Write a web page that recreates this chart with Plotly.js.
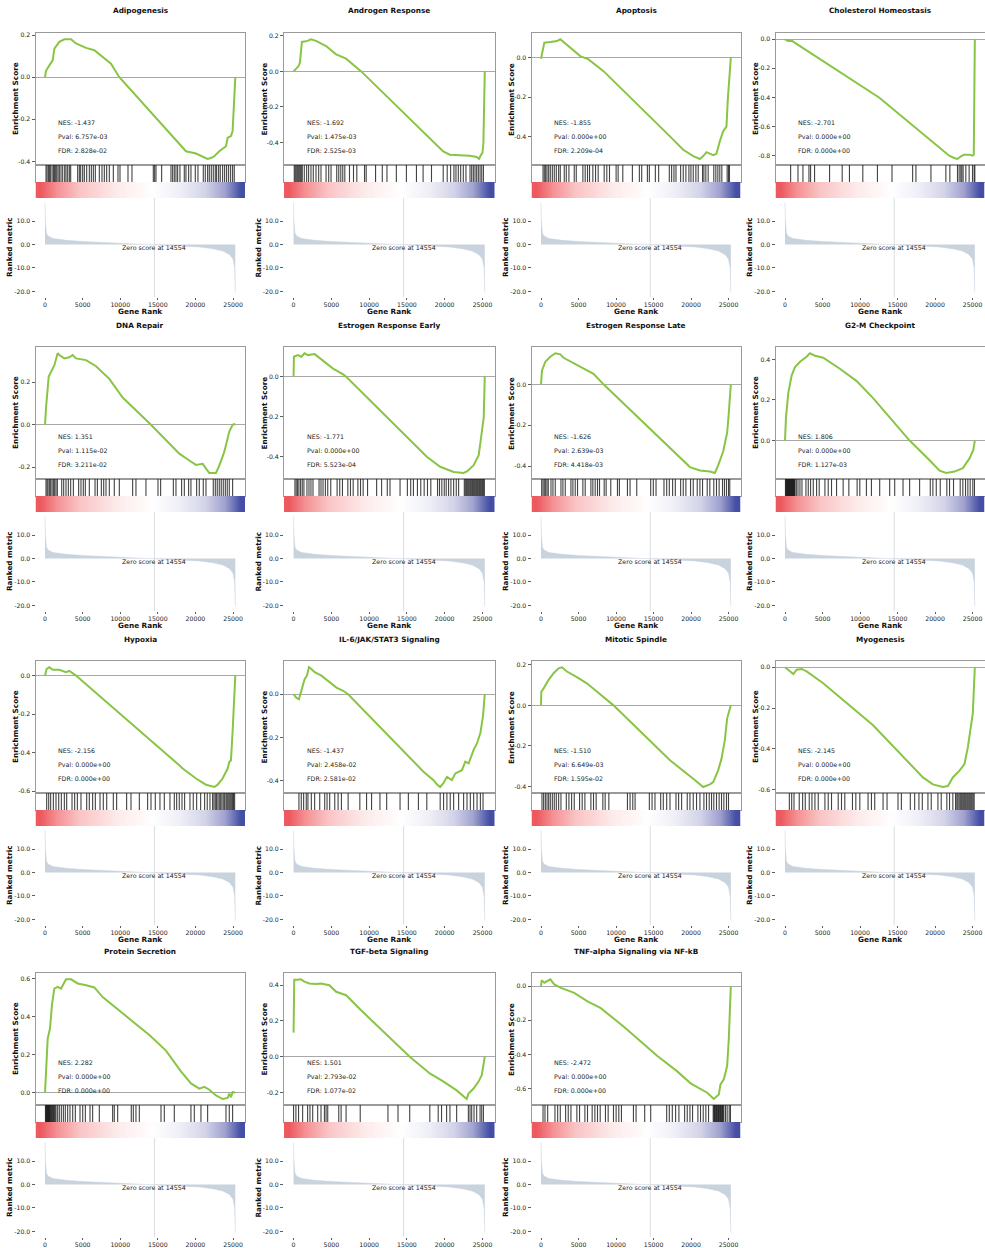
<!DOCTYPE html>
<html>
<head>
<meta charset="utf-8">
<script src="https://cdn.plot.ly/plotly-3.0.1.min.js"></script>
<style>html,body{margin:0;padding:0;background:#fff}#chart{width:985px;height:1248px}</style>
</head>
<body>
<div id="chart"></div>
<script>
// ---------------- DATA ----------------
const setTitles = ['Adipogenesis','Androgen Response','Apoptosis','Cholesterol Homeostasis','DNA Repair','Estrogen Response Early','Estrogen Response Late','G2-M Checkpoint','Hypoxia','IL-6/JAK/STAT3 Signaling','Mitotic Spindle','Myogenesis','Protein Secretion','TGF-beta Signaling','TNF-alpha Signaling via NF-kB'];
const nesValues = ['-1.437','-1.692','-1.855','-2.701','1.351','-1.771','-1.626','1.806','-2.156','-1.437','-1.510','-2.145','2.282','1.501','-2.472'];
const pvalValues = ['6.757e-03','1.475e-03','0.000e+00','0.000e+00','1.115e-02','0.000e+00','2.639e-03','0.000e+00','0.000e+00','2.458e-02','6.649e-03','0.000e+00','0.000e+00','2.793e-02','0.000e+00'];
const fdrValues = ['2.828e-02','2.525e-03','2.209e-04','0.000e+00','3.211e-02','5.523e-04','4.418e-03','1.127e-03','0.000e+00','2.581e-02','1.595e-02','0.000e+00','0.000e+00','1.077e-02','0.000e+00'];

const geneCount = 25322;
const zeroScoreRank = 14554;

// ranked metric (shared by all panels)
const metricRank = [0,40,180,400,1060,2830,5050,7260,9480,11690,14350,16130,18340,20560,22330,23660,24540,24990,25210,25300];
const metricValue = [18.0,10.7,4.9,3.7,2.6,1.8,1.3,1.0,0.7,0.45,0,-0.3,-0.6,-1.0,-1.8,-2.8,-4.3,-6.2,-9.9,-20.5];
const metricTickVals = [-20,-10,0,10];
const metricTickText = ['-20.0','-10.0','0.0','10.0'];
const rankTickVals = [0,5000,10000,15000,20000,25000];
const rankTickText = ['0','5000','10000','15000','20000','25000'];

// colour bar levels
const cbarLevels = [0,0.05,0.1,0.15,0.2,0.25,0.3,0.35,0.4,0.45,0.5,0.55,0.6,0.65,0.7,0.75,0.8,0.85,0.9,0.95,1];

// running enrichment score curves
const adipoRank = [0,133,576,1020,1240,1900,2570,3450,4120,5450,6560,7660,8770,9880,18740,20070,20960,21620,22060,22510,23170,24060,24280,24720,24940,25070,25300];
const adipoES = [0,0.03,0.056,0.08,0.136,0.168,0.18,0.18,0.16,0.139,0.128,0.096,0.064,0.0,-0.352,-0.363,-0.376,-0.389,-0.384,-0.376,-0.352,-0.328,-0.288,-0.28,-0.256,-0.168,0];
const androRank = [0,310,665,840,1100,1860,2300,2970,4300,5630,6950,8950,19800,20690,22020,23340,24230,24540,24800,24990,25120,25300];
const androES = [0,0.015,0.03,0.049,0.166,0.172,0.181,0.172,0.143,0.096,0.072,0,-0.451,-0.47,-0.474,-0.476,-0.483,-0.494,-0.47,-0.46,-0.404,0];
const apopRank = [0,133,443,1240,2130,2570,3010,4120,5230,6330,8330,17190,18960,20290,21180,21620,22060,22950,23390,23830,24280,24720,24900,25300];
const apopES = [-0.005,0.026,0.077,0.08,0.085,0.094,0.08,0.043,0.0085,-0.0085,-0.068,-0.4,-0.468,-0.5,-0.515,-0.5,-0.48,-0.495,-0.488,-0.425,-0.374,-0.35,-0.21,0];
const cholRank = [0,400,975,1285,12580,21440,21880,22550,22990,23430,23880,24540,24990,25160,25300];
const cholES = [0,-0.0115,-0.0115,-0.023,-0.403,-0.784,-0.802,-0.818,-0.825,-0.807,-0.795,-0.795,-0.802,-0.795,0];
const dnaRank = [0,133,490,800,1240,1680,1900,2570,3230,3680,4120,5450,6780,8550,10320,14090,17850,19180,20070,20960,21840,22730,23170,23830,24500,24940,25160,25300];
const dnaES = [0,0.08,0.227,0.248,0.28,0.336,0.328,0.312,0.317,0.328,0.312,0.304,0.275,0.216,0.128,0,-0.136,-0.168,-0.189,-0.184,-0.227,-0.227,-0.192,-0.128,-0.032,0,0.003,0];
const esEarlyRank = [0,44,575,1020,1460,1900,2790,3680,5230,6560,7000,17630,19400,21180,22500,22950,23830,24500,24940,25160,25300];
const esEarlyES = [0,0.098,0.106,0.098,0.115,0.106,0.111,0.084,0.039,0.01,-0.003,-0.4,-0.45,-0.476,-0.481,-0.473,-0.442,-0.392,-0.257,-0.206,0];
const esLateRank = [0,133,576,1240,1900,2570,3010,3900,4780,6110,7000,8330,17190,18520,19850,21180,22510,23170,23610,24280,24810,24990,25300];
const esLateES = [0,0.068,0.11,0.135,0.152,0.147,0.13,0.113,0.093,0.071,0.051,0,-0.312,-0.363,-0.405,-0.422,-0.427,-0.434,-0.397,-0.329,-0.236,-0.16,0];
const g2mRank = [0,133,443,886,1330,2000,2880,3320,3990,5090,7310,9520,11740,16610,19270,20600,21490,22590,23700,24590,25100,25300];
const g2mES = [0,0.116,0.235,0.32,0.362,0.388,0.413,0.43,0.418,0.408,0.354,0.294,0.209,0,-0.097,-0.148,-0.16,-0.153,-0.136,-0.088,-0.046,0];
const hypoxiaRank = [0,220,575,1020,1900,2790,3230,4120,17850,18300,20070,21400,22500,22950,23610,24280,24500,24720,24940,25300];
const hypoxiaES = [0,0.035,0.043,0.03,0.03,0.017,0.024,0,-0.466,-0.483,-0.535,-0.567,-0.579,-0.567,-0.535,-0.483,-0.449,-0.44,-0.292,0];
const il6Rank = [0,354,709,1020,1460,1770,2040,2350,2790,3680,4780,5670,6560,7220,17190,18520,18960,19400,19850,20290,20950,21400,22280,22720,23170,23830,24280,24720,25070,25300];
const il6ES = [0,-0.016,-0.023,0.016,0.07,0.086,0.125,0.117,0.102,0.086,0.055,0.031,0.016,0,-0.359,-0.398,-0.417,-0.43,-0.411,-0.383,-0.398,-0.367,-0.352,-0.3125,-0.32,-0.258,-0.227,-0.18,-0.1,0];
const mitoticRank = [0,44,354,1020,1680,2350,2790,3460,4780,6110,7440,9660,17190,18960,20290,21620,22510,22950,23610,24060,24500,24810,25300];
const mitoticES = [0,0.068,0.084,0.126,0.159,0.183,0.188,0.167,0.139,0.109,0.068,0,-0.271,-0.321,-0.362,-0.403,-0.39,-0.379,-0.321,-0.263,-0.172,-0.064,0];
const myoRank = [0,665,1110,1550,2220,2880,5090,11740,18380,19710,21040,21710,22370,23260,23920,24370,24810,25030,25300];
const myoES = [0,-0.02,-0.033,-0.0116,-0.008,-0.02,-0.078,-0.284,-0.54,-0.574,-0.587,-0.582,-0.54,-0.507,-0.474,-0.392,-0.293,-0.226,0];
const proteinRank = [0,133,354,665,930,1240,1680,2130,2570,2790,3460,4340,5450,6560,7660,9440,11650,13870,16080,18070,19410,20510,21180,21840,22730,23610,24280,24500,24720,24940,25300];
const proteinES = [0,0.104,0.285,0.34,0.467,0.549,0.558,0.549,0.585,0.598,0.598,0.576,0.567,0.555,0.504,0.449,0.376,0.304,0.222,0.113,0.049,0.022,0.031,0.016,-0.0145,-0.033,-0.027,-0.005,-0.024,0.004,0];
const tgfRank = [0,89,530,975,1420,2080,2970,3630,4740,5630,6950,8730,15370,18030,19800,21580,22910,23130,23790,24460,24900,25300];
const tgfES = [0.135,0.43,0.43,0.433,0.42,0.41,0.407,0.41,0.4,0.363,0.344,0.268,0,-0.093,-0.137,-0.188,-0.236,-0.207,-0.179,-0.14,-0.103,0];
const tnfRank = [0,89,443,886,1240,1770,2660,4430,6200,7970,11080,15510,18160,19940,22150,23030,23700,23920,24370,24810,25030,25300];
const tnfES = [0,0.034,0.02,0.034,0.04,0.01,-0.01,-0.04,-0.089,-0.129,-0.24,-0.41,-0.5,-0.57,-0.625,-0.662,-0.636,-0.576,-0.546,-0.467,-0.308,0];

// gene-set hit positions
const adipoHits = [133,266,443,576,709,930,1108,1240,1373,1550,1728,1905,2126,2348,2614,2791,3012,3234,3411,4341,4563,4740,5006,5227,5538,5892,6158,6424,6689,7221,7575,7885,8196,8550,9082,9702,9968,11031,11562,14398,14575,14752,15505,16745,16967,17188,17410,17631,17941,18517,18739,19093,19403,19979,20334,21042,21308,21618,21840,22106,22372,22637,22815,23080,23302,23612,23878,24144,24409,24675,24941,25162];
const androHits = [90,220,350,490,620,750,890,1020,1150,1420,1730,1990,2300,2610,2970,3320,3630,4300,4650,4960,5710,5980,6250,6510,6780,7400,7930,8370,9390,9610,10850,11740,12360,13600,14930,16260,17140,18250,19800,20330,20780,21220,21490,21800,22110,22460,22810,23350,23570,23790,24010,24230,24450,24680,24900,25120];
const apopHits = [270,440,620,800,1020,1240,1510,1770,2040,2350,2570,3100,3370,3720,4430,4700,5580,5890,6200,6470,6910,7270,7620,8420,8770,9130,10010,10280,10900,12180,13110,13420,14180,14440,15240,15680,17100,17410,17720,17990,18610,18960,19310,19710,19980,20290,20640,20950,21530,21710,21970,22280,23030,23300,23570,23830,24100,24810,24990,25120];
const cholHits = [750,1730,2390,3190,3410,3940,5940,7620,8590,10370,12320,14260,17010,17450,19450,21440,21970,22990,23210,23430,23570,23740,24100,24540,24990,25210,25300];
const dnaHits = [130,270,400,580,750,930,1110,1280,1460,1640,2220,2480,2790,3100,3410,3770,4470,4780,5090,5360,5890,6650,6960,7490,7800,8110,8550,9210,9880,11650,12090,13420,15020,15370,17060,17410,18160,18520,19090,19400,20160,20510,21040,21400,22370,22640,22900,23170,23430,23700,23970,24230,24500,24940];
const esEarlyHits = [180,350,530,710,930,1150,1370,1770,2040,2300,2570,3370,3630,3900,4210,4520,4920,5760,6110,6470,7180,7530,7890,8510,8860,9210,9790,10990,11650,12400,12760,14090,15060,15500,15860,16390,16830,17280,17720,18160,19050,19310,19620,19940,20200,20510,20820,21180,21530,21840,22590,22720,22860,22990,23120,23250,23390,23520,23660,23790,23920,24050,24190,24320,24450,24590,24720,24850,24990,25120,25250];
const esLateHits = [90,270,440,620,800,970,1330,1590,1900,2660,2920,3230,3990,4250,4560,4870,5580,5890,6650,6910,7220,7530,7800,8420,8680,9300,10190,10450,11520,11870,12760,14620,14970,15330,16390,16750,17100,17540,17900,18610,18960,19310,19930,20290,20820,21180,21530,22150,22500,23030,23390,23740,24190,24450,24720,24990,25160];
const g2mHits = [60,130,200,270,330,400,460,530,600,660,730,800,860,930,1000,1060,1130,1200,1270,1330,1510,1730,1990,2260,2790,3100,3410,3770,4210,4560,5320,5760,6200,6870,7750,8510,9610,9970,10850,11520,12620,13950,14620,15730,16610,17940,19360,19710,20160,20690,21570,21930,22460,23350,23700,24060,24370,24680,25030,25250];
const hypoxiaHits = [220,490,750,1110,1460,1820,2170,2570,2880,3590,3940,4300,4780,5540,5890,6330,6690,7310,7750,8200,9080,9520,10850,11430,12540,13640,14090,14660,15280,15860,16610,17190,17500,17850,18210,18560,19270,19710,20160,20690,21220,21570,21930,22280,22460,22640,22810,22990,23170,23350,23520,23700,23880,24060,24190,24320,24460,24590,24720,24850,24960,25070,25210];
const il6Hits = [710,1020,1330,1680,1900,2350,2790,3460,4120,4430,4780,5450,5890,6330,7220,8770,9660,10320,11430,12320,14090,15190,16520,17630,19400,19850,20290,20730,21180,21840,22500,22950,23390,23830,24280,24720,25070];
const mitoticHits = [130,350,580,800,1020,1240,1510,1770,2040,2350,2660,3370,3720,4080,4430,5140,5490,5850,6650,7000,7350,8240,8550,9040,11520,11870,12230,12540,14440,14800,15190,15950,16300,16750,17190,17990,18340,18740,19490,19850,20290,20730,21180,21710,22060,22420,22730,23030,23390,23740,24060,24370,24720,24990];
const myoHits = [580,890,1200,1900,2350,2700,3230,3590,3990,4430,5320,5760,6200,7090,7530,7970,8990,9440,9970,11070,11520,11960,13070,13600,15060,15510,16700,17280,17850,18300,19050,19490,20380,20820,21570,21930,22370,22730,22900,23040,23200,23350,23480,23610,23750,23880,24010,24140,24280,24410,24550,24680,24810,24940,25080,25210];
const proteinHits = [60,130,200,270,330,400,460,530,600,660,750,840,930,1020,1130,1240,1350,1460,1680,1900,2170,2440,2700,3010,3320,3680,4030,4650,5010,5360,5980,6330,7220,8990,9210,9660,11470,11740,12090,12540,15420,15860,17190,19400,19850,20730,21620,24060,24500,24940];
const tgfHits = [0,310,660,1200,1860,2170,2530,3190,3630,4080,4300,4520,5980,6290,6950,8820,12490,13820,15370,18030,19140,19580,20250,20690,21580,23130,23350,23570,23880,24230,24680,24900,25120];
const tnfHits = [270,530,890,1860,2220,2570,3280,3630,3990,4780,5140,5850,6200,6820,7180,7530,7890,8590,8950,9660,10010,10370,10720,12320,12670,13820,14620,16750,17100,17500,17940,18380,19140,19490,19850,20200,20910,21260,21620,21970,22330,22950,23040,23130,23210,23300,23390,23480,23570,23660,23740,23830,23920,24010,24100,24190,24280,24370,24590,24810,25080,25250];

const esRanks = [adipoRank,androRank,apopRank,cholRank,dnaRank,esEarlyRank,esLateRank,g2mRank,hypoxiaRank,il6Rank,mitoticRank,myoRank,proteinRank,tgfRank,tnfRank];
const esScores = [adipoES,androES,apopES,cholES,dnaES,esEarlyES,esLateES,g2mES,hypoxiaES,il6ES,mitoticES,myoES,proteinES,tgfES,tnfES];
const hitRanks = [adipoHits,androHits,apopHits,cholHits,dnaHits,esEarlyHits,esLateHits,g2mHits,hypoxiaHits,il6Hits,mitoticHits,myoHits,proteinHits,tgfHits,tnfHits];

// ---------------- LAYOUT ----------------
const W = 985, H = 1248;
const colX = [[35.5,245],[284,494.5],[531.5,740.5],[775.5,984.5]];
const rowTop = [0,314,628,940];
const FONT = 'DejaVu Sans';
const xRange = [-0.05*geneCount, 1.05*geneCount];
const px = v => v / W;
const py = v => 1 - v / H;
const sfx = n => (n === 1 ? '' : String(n));

const traces = [];
const layout = {
  width: W, height: H,
  margin: {l:0, r:0, t:0, b:0},
  paper_bgcolor: '#ffffff', plot_bgcolor: '#ffffff',
  showlegend: false,
  font: {family: FONT, color: '#222'},
  annotations: [], shapes: []
};
const tickFont = () => ({family: FONT, size: 6.2, color: '#222'});
const labFont = () => ({family: FONT, size: 7.3, color: '#111', weight: 'bold'});
const txtFont = () => ({family: FONT, size: 6.3, color: '#222'});

setTitles.forEach((title, i) => {
  const col = i % 4, row = Math.floor(i / 4);
  const [L, R] = colX[col];
  const r0 = rowTop[row];
  const nES = 4*i+1, nHit = 4*i+2, nBar = 4*i+3, nRank = 4*i+4;
  const xd = [px(L), px(R)];

  // ES axis range (5% margin, like matplotlib)
  const es = esScores[i];
  const lo = Math.min(0, ...es), hi = Math.max(0, ...es);
  const pad = (hi - lo) * 0.05;
  const esTickVals = [], esTickText = [];
  for (let k = Math.ceil((lo - pad) / 0.2 - 1e-9); k * 0.2 <= hi + pad + 1e-9; k++) {
    esTickVals.push(k * 0.2);
    esTickText.push(k === 0 ? '0.0' : (k * 0.2).toFixed(1));
  }

  layout['xaxis'+sfx(nES)] = {domain: xd, range: xRange, anchor: 'y'+sfx(nES), showticklabels: false, ticks: '', showgrid: false, zeroline: false, showline: true, mirror: true, linecolor: '#9a9a9a', linewidth: 1, fixedrange: true};
  layout['yaxis'+sfx(nES)] = {domain: [py(r0+165), py(r0+33.3)], range: [lo-pad, hi+pad], anchor: 'x'+sfx(nES), tickmode: 'array', tickvals: esTickVals, ticktext: esTickText, ticks: 'outside', ticklen: 3, tickcolor: '#333', tickwidth: 0.8, tickfont: tickFont(), showgrid: false, zeroline: true, zerolinecolor: '#a8a8a8', zerolinewidth: 1, showline: true, mirror: true, linecolor: '#9a9a9a', linewidth: 1, fixedrange: true};

  layout['xaxis'+sfx(nHit)] = {domain: xd, range: xRange, anchor: 'y'+sfx(nHit), showticklabels: false, ticks: '', showgrid: false, zeroline: false, showline: true, mirror: true, linecolor: '#9a9a9a', linewidth: 1, fixedrange: true};
  layout['yaxis'+sfx(nHit)] = {domain: [py(r0+182), py(r0+165)], range: [0, 1], anchor: 'x'+sfx(nHit), showticklabels: false, ticks: '', showgrid: false, zeroline: false, showline: true, mirror: true, linecolor: '#9a9a9a', linewidth: 1, fixedrange: true};

  layout['xaxis'+sfx(nBar)] = {domain: xd, range: [-0.5, cbarLevels.length-0.5], anchor: 'y'+sfx(nBar), visible: false, fixedrange: true};
  layout['yaxis'+sfx(nBar)] = {domain: [py(r0+198), py(r0+182)], range: [-0.5, 0.5], anchor: 'x'+sfx(nBar), visible: false, fixedrange: true};

  const mLo = Math.min(...metricValue), mHi = Math.max(...metricValue);
  const mPad = (mHi - mLo) * 0.05;
  layout['xaxis'+sfx(nRank)] = {domain: xd, range: xRange, anchor: 'y'+sfx(nRank), tickmode: 'array', tickvals: rankTickVals, ticktext: rankTickText, ticks: 'outside', ticklen: 2, tickcolor: '#333', tickwidth: 0.8, tickfont: tickFont(), showgrid: false, zeroline: false, showline: false, fixedrange: true};
  layout['yaxis'+sfx(nRank)] = {domain: [py(r0+297), py(r0+198)], range: [mLo-mPad, mHi+mPad], anchor: 'x'+sfx(nRank), tickmode: 'array', tickvals: metricTickVals, ticktext: metricTickText, ticks: 'outside', ticklen: 3, tickcolor: '#333', tickwidth: 0.8, tickfont: tickFont(), showgrid: false, zeroline: false, showline: false, fixedrange: true};

  // ES curve
  traces.push({type: 'scatter', mode: 'lines', x: esRanks[i], y: es, xaxis: 'x'+sfx(nES), yaxis: 'y'+sfx(nES), line: {color: '#88C544', width: 2}, hoverinfo: 'skip'});

  // hit lines
  const hx = [], hy = [];
  hitRanks[i].forEach(h => { hx.push(h, h, null); hy.push(0, 1, null); });
  traces.push({type: 'scatter', mode: 'lines', x: hx, y: hy, xaxis: 'x'+sfx(nHit), yaxis: 'y'+sfx(nHit), line: {color: 'rgba(20,20,20,0.8)', width: 1.1}, hoverinfo: 'skip'});

  // colour bar
  traces.push({type: 'heatmap', z: [cbarLevels], xaxis: 'x'+sfx(nBar), yaxis: 'y'+sfx(nBar), zmin: 0, zmax: 1, zsmooth: 'best', showscale: false, hoverinfo: 'skip',
    colorscale: [[0,'rgb(236,90,96)'],[0.08,'rgb(244,145,148)'],[0.2,'rgb(250,198,199)'],[0.38,'rgb(253,235,235)'],[0.56,'rgb(255,255,255)'],[0.7,'rgb(238,238,247)'],[0.82,'rgb(212,212,233)'],[0.92,'rgb(160,162,207)'],[1,'rgb(68,78,164)']]});

  // ranked metric
  traces.push({type: 'scatter', mode: 'lines', x: metricRank, y: metricValue, xaxis: 'x'+sfx(nRank), yaxis: 'y'+sfx(nRank), fill: 'tozeroy', fillcolor: '#C9D3DE', line: {color: '#C9D3DE', width: 0.5}, hoverinfo: 'skip'});

  layout.shapes.push({type: 'line', xref: 'x'+sfx(nRank), yref: 'y'+sfx(nRank)+' domain', x0: zeroScoreRank, x1: zeroScoreRank, y0: 0, y1: 1, line: {color: '#cfd5db', width: 0.8}});

  // texts
  const A = layout.annotations;
  A.push({xref: 'paper', yref: 'paper', x: px((L+R)/2), y: py(r0+11), text: title, showarrow: false, xanchor: 'center', yanchor: 'middle', font: labFont()});
  A.push({xref: 'paper', yref: 'paper', x: px(L-20.5), y: py(r0+99), text: 'Enrichment Score', textangle: -90, showarrow: false, xanchor: 'center', yanchor: 'middle', font: labFont()});
  A.push({xref: 'paper', yref: 'paper', x: px(L-26), y: py(r0+247.5), text: 'Ranked metric', textangle: -90, showarrow: false, xanchor: 'center', yanchor: 'middle', font: labFont()});
  if (row < 3) {
    A.push({xref: 'paper', yref: 'paper', x: px((L+R)/2), y: py(r0+311), text: 'Gene Rank', showarrow: false, xanchor: 'center', yanchor: 'middle', font: labFont()});
  }
  A.push({xref: 'x'+sfx(nES)+' domain', yref: 'y'+sfx(nES)+' domain', x: 0.1, y: 0.32, text: 'NES: ' + nesValues[i], showarrow: false, xanchor: 'left', yanchor: 'middle', font: txtFont()});
  A.push({xref: 'x'+sfx(nES)+' domain', yref: 'y'+sfx(nES)+' domain', x: 0.1, y: 0.215, text: 'Pval: ' + pvalValues[i], showarrow: false, xanchor: 'left', yanchor: 'middle', font: txtFont()});
  A.push({xref: 'x'+sfx(nES)+' domain', yref: 'y'+sfx(nES)+' domain', x: 0.1, y: 0.11, text: 'FDR: ' + fdrValues[i], showarrow: false, xanchor: 'left', yanchor: 'middle', font: txtFont()});
  A.push({xref: 'x'+sfx(nRank), yref: 'y'+sfx(nRank)+' domain', x: zeroScoreRank, y: 0.5, text: 'Zero score at ' + zeroScoreRank, showarrow: false, xanchor: 'center', yanchor: 'middle', font: txtFont()});
});

Plotly.newPlot('chart', traces, layout, {staticPlot: true, displayModeBar: false});
</script>
</body>
</html>
